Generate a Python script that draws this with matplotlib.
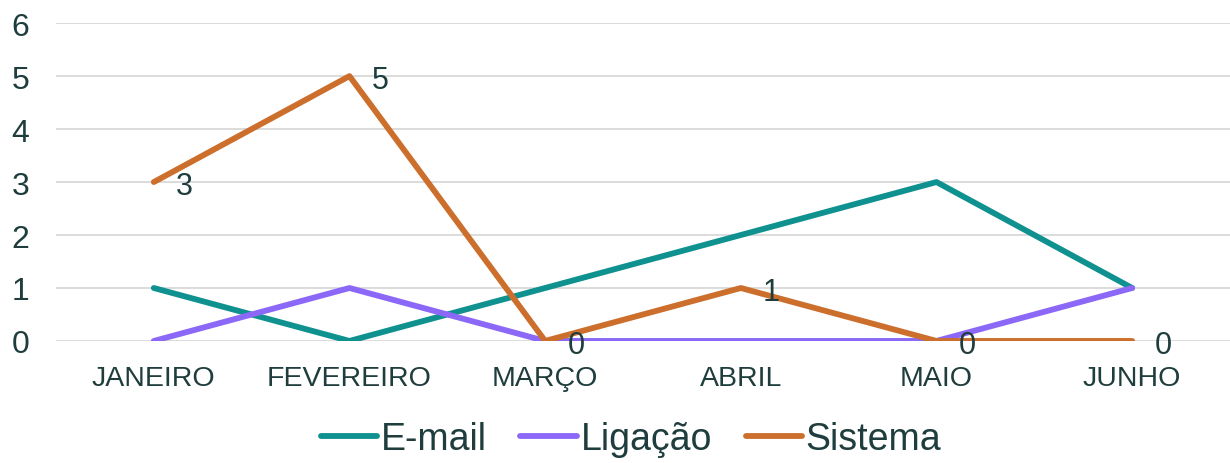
import matplotlib.pyplot as plt

# DATA
meses = ['JANEIRO', 'FEVEREIRO', 'MARÇO', 'ABRIL', 'MAIO', 'JUNHO']
email = [1, 0, 1, 2, 3, 1]
ligacao = [0, 1, 0, 0, 0, 1]
sistema = [3, 5, 0, 1, 0, 0]

plt.rcParams['font.family'] = ['Liberation Sans', 'DejaVu Sans']
txt = '#1f3d3d'

fig = plt.figure(figsize=(12.3, 4.64), dpi=100)
ax = fig.add_axes([0.0455, 0.263, 0.9545, 0.685])

x = range(len(meses))
ax.plot(x, email, color='#0f9190', lw=4.2, label='E-mail', solid_capstyle='round')
ax.plot(x, ligacao, color='#8b68f7', lw=4.2, label='Ligação', solid_capstyle='round')
ax.plot(x, sistema, color='#cd6f2c', lw=4.2, label='Sistema', solid_capstyle='round')

# rótulos de dados (só Sistema)
for i, v in enumerate(sistema):
    ax.annotate(str(v), (i, v), xytext=(16, -3), textcoords='offset points',
                ha='left', va='center', fontsize=22, color=txt)

ax.set_xlim(-0.5, len(meses) - 0.5)
ax.set_ylim(0, 6)
ax.set_yticks(range(7))
ax.set_xticks(list(x))
ax.set_xticklabels(meses)
ax.tick_params(axis='x', labelsize=20.5, colors=txt, length=0, pad=17)
ax.tick_params(axis='y', labelsize=23, colors=txt, length=0, pad=19)
ax.grid(axis='y', color='#d9d9d9', lw=1.3)
ax.set_axisbelow(True)
for s in ax.spines.values():
    s.set_visible(False)

leg = fig.legend(loc='lower center', bbox_to_anchor=(0.513, -0.06), ncol=3, frameon=False,
                 fontsize=27, handlelength=1.5, handletextpad=0.1, columnspacing=0.9)
for t in leg.get_texts():
    t.set_color(txt)

fig.savefig('out.png', dpi=100)
